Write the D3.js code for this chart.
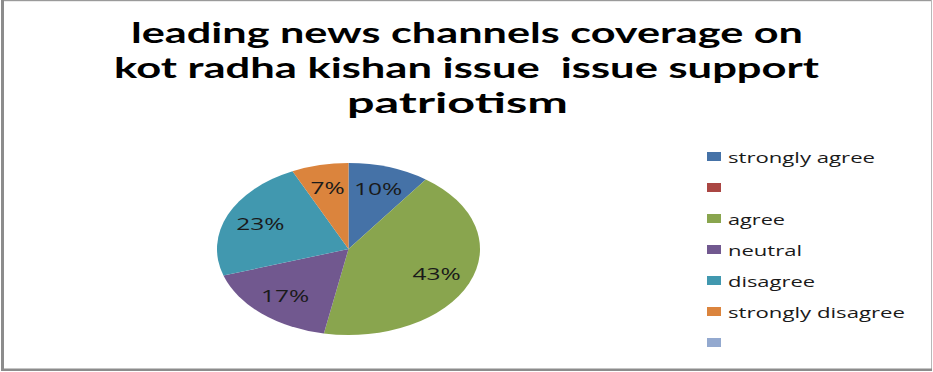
<!DOCTYPE html>
<html>
<head>
<meta charset="utf-8">
<script src="https://cdn.jsdelivr.net/npm/d3@7"></script>
<style>
  html, body { margin: 0; padding: 0; background: #ffffff; }
  svg { display: block; }
</style>
</head>
<body>
<svg id="chart" width="933" height="372"></svg>
<script>
// Survey responses (percent of respondents)
const categories = ["strongly agree", "", "agree", "neutral", "disagree", "strongly disagree", ""];
const shares = [10, 0, 43, 17, 23, 7, 0];
const sliceColors = ["#4572A7", "#AA4643", "#89A54E", "#71588F", "#4198AF", "#DB843D", "#93A9CF"];
const titleLines = [
  "leading news channels coverage on",
  "kot radha kishan issue  issue support",
  "patriotism"
];

const svg = d3.select("#chart");
const W = 933, H = 372;

// Frame with a darker left/bottom edge
svg.append("rect").attr("x", 0).attr("y", 0).attr("width", W).attr("height", H).attr("fill", "#fff");
svg.append("rect").attr("x", 1).attr("y", 0).attr("width", 931).attr("height", 1.2).attr("fill", "#9a9a9a");
svg.append("rect").attr("x", 931).attr("y", 0).attr("width", 1).attr("height", 370).attr("fill", "#b8b8b8");
svg.append("rect").attr("x", 1).attr("y", 0).attr("width", 3).attr("height", 371).attr("fill", "#8c8c8c");
svg.append("rect").attr("x", 1).attr("y", 368.5).attr("width", 931).attr("height", 2.5).attr("fill", "#8c8c8c");

// Title: one text block, three centred lines
const titleSpec = [
  { x: 131, y: 43, len: 672 },
  { x: 114, y: 78, len: 705 },
  { x: 347, y: 113, len: 221 }
];
svg.append("text")
  .attr("font-family", "Lato, 'Open Sans', sans-serif")
  .attr("font-weight", "bold")
  .attr("font-size", 29)
  .attr("fill", "#000")
  .attr("xml:space", "preserve")
  .style("white-space", "pre")
  .selectAll("tspan")
  .data(titleLines)
  .join("tspan")
  .attr("x", (d, i) => titleSpec[i].x)
  .attr("y", (d, i) => titleSpec[i].y)
  .attr("textLength", (d, i) => titleSpec[i].len)
  .attr("lengthAdjust", "spacingAndGlyphs")
  .text(d => d);

// Pie: drawn as a circle and stretched horizontally into an ellipse
const cx = 348.5, cy = 249, rx = 131.5, ry = 86;
const sx = rx / ry;

const pie = d3.pie().sort(null).value(d => d.v);
const arcs = pie(shares.map((v, i) => ({ v, i })));
const arc = d3.arc().innerRadius(0).outerRadius(ry);
const labelArc = d3.arc().innerRadius(ry * 0.73).outerRadius(ry * 0.73);

const pieG = svg.append("g").attr("transform", `translate(${cx},${cy}) scale(${sx},1)`);

pieG.selectAll("path")
  .data(arcs.filter(d => d.data.v > 0))
  .join("path")
  .attr("d", arc)
  .attr("fill", d => sliceColors[d.data.i]);

pieG.selectAll("text")
  .data(arcs.filter(d => d.data.v > 0))
  .join("text")
  .attr("transform", d => `translate(${labelArc.centroid(d)})`)
  .attr("text-anchor", "middle")
  .attr("dy", "0.36em")
  .attr("font-family", "'Open Sans', 'DejaVu Sans', sans-serif")
  .attr("font-size", 16)
  .attr("fill", "#1a1a1a")
  .text(d => d.data.v + "%");

// Legend
const legendY = d3.scalePoint().domain(d3.range(categories.length)).range([156.5, 342.5]);
const legendWidths = [147, 0, 57, 74, 87, 177, 0];
const legend = svg.append("g");
const items = legend.selectAll("g")
  .data(categories)
  .join("g")
  .attr("transform", (d, i) => `translate(0,${legendY(i)})`);

items.append("rect")
  .attr("x", 707).attr("y", -4.5)
  .attr("width", 14).attr("height", 9)
  .attr("fill", (d, i) => sliceColors[i]);

items.filter(d => d.length > 0).append("text")
  .attr("x", 728)
  .attr("y", 6)
  .attr("textLength", (d) => legendWidths[categories.indexOf(d)])
  .attr("lengthAdjust", "spacingAndGlyphs")
  .attr("font-family", "'Open Sans', 'DejaVu Sans', sans-serif")
  .attr("font-size", 15)
  .attr("fill", "#1a1a1a")
  .text(d => d);
</script>
</body>
</html>
